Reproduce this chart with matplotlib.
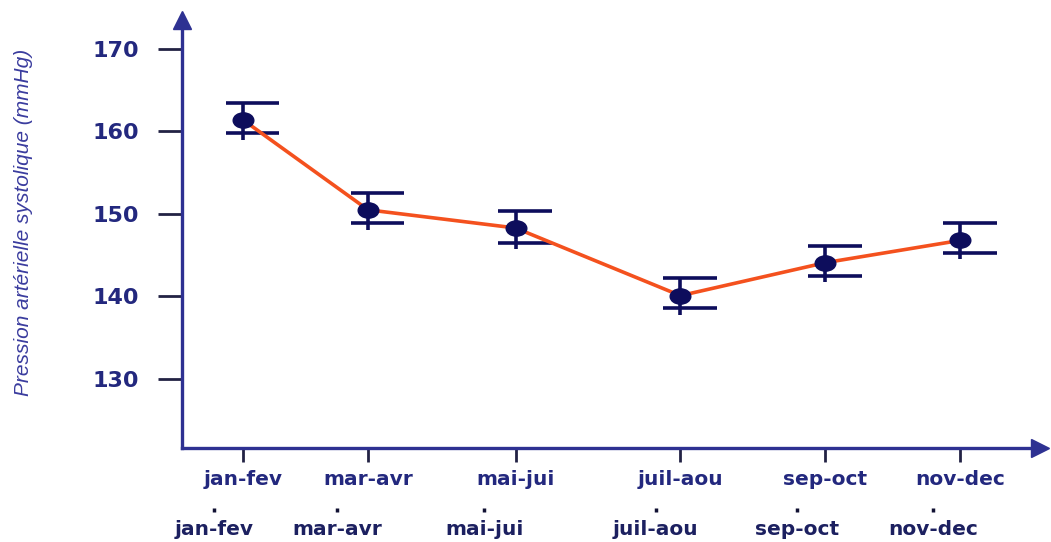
import numpy as np
import matplotlib
matplotlib.use("Agg")
import matplotlib.pyplot as plt
from matplotlib.markers import MarkerStyle
from matplotlib.transforms import Affine2D

# ─────────────────────────────────────────
# Data
# ─────────────────────────────────────────
periods   = ["jan-fev", "mar-avr", "mai-jui", "juil-aou", "sep-oct", "nov-dec"]
positions = [1.0, 2.0, 3.18, 4.50, 5.66, 6.74]       # uneven spacing as in the source
pas_mean  = [161.4, 150.5, 148.3, 140.1, 144.1, 146.8]
pas_upper = [163.5, 152.5, 150.4, 142.2, 146.1, 148.9]
pas_lower = [159.8, 148.9, 146.5, 138.6, 142.5, 145.3]
row2_pos  = [0.77, 1.75, 2.93, 4.30, 5.43, 6.52]      # duplicated label row underneath
y_ticks   = [130, 140, 150, 160, 170]

NAVY  = "#23287e"
AXIS  = "#2e3192"
ORNG  = "#f4511e"
DARK  = "#0d0d5c"

fig = plt.figure(figsize=(10.51, 5.42), dpi=100)
ax = fig.add_axes([182 / 1051, 94 / 542, 858 / 1051, 428 / 542])

# ── error bars (caps shifted to the right like the original) ──
lo = np.array(pas_lower)
hi = np.array(pas_upper)
x = np.array(positions)
ax.vlines(x, lo - 0.8, hi, color=DARK, lw=2.6, zorder=3)
ax.hlines(hi, x - 0.14, x + 0.29, color=DARK, lw=2.6, zorder=3)
ax.hlines(lo, x - 0.14, x + 0.29, color=DARK, lw=2.6, zorder=3)

# ── mean line + markers ──
ax.plot(x, pas_mean, color=ORNG, lw=2.6, zorder=4)
mk = MarkerStyle("o", transform=Affine2D().scale(1.35, 1.0))
ax.plot(x, pas_mean, ls="none", marker=mk, ms=11, color=DARK, zorder=5)

# ── axes styling ──
ax.set_xlim(0.512, 7.376)
ax.set_ylim(121.64, 173.5)
for s in ["top", "right"]:
    ax.spines[s].set_visible(False)
for s in ["left", "bottom"]:
    ax.spines[s].set_color(AXIS)
    ax.spines[s].set_linewidth(2.4)
ax.plot(0, 1, marker="^", ms=13, color=AXIS, transform=ax.transAxes, clip_on=False)
ax.plot(1, 0, marker=">", ms=13, color=AXIS, transform=ax.transAxes, clip_on=False)

ax.set_yticks(y_ticks)
ax.set_yticklabels([str(v) for v in y_ticks])
ax.tick_params(axis="y", direction="out", length=17, width=2, color="#222244",
               pad=14, labelsize=16, labelcolor=NAVY)
for lab in ax.get_yticklabels():
    lab.set_fontweight("bold")
    lab.set_family("DejaVu Sans")

ax.set_xticks(positions)
ax.set_xticklabels(periods)
ax.tick_params(axis="x", direction="out", length=10, width=2, color="#222244",
               pad=6, labelsize=14.5, labelcolor=NAVY)
for lab in ax.get_xticklabels():
    lab.set_fontweight("bold")
    lab.set_family("DejaVu Sans")

# second (duplicated) row of period labels
sec = ax.secondary_xaxis(-0.14)
sec.set_xticks(row2_pos)
sec.set_xticklabels(periods)
sec.spines["bottom"].set_visible(False)
sec.tick_params(axis="x", direction="out", length=3, width=2.5, color="#111133",
                pad=6, labelsize=14.5, labelcolor="#1c2060")
for lab in sec.get_xticklabels():
    lab.set_fontweight("bold")
    lab.set_family("DejaVu Sans")

fig.text(24 / 1051, 1 - 222 / 542, "Pression artérielle systolique (mmHg)",
         rotation=90, ha="center", va="center", fontsize=15, style="italic",
         color="#3a3c9e", family=["Liberation Sans", "DejaVu Sans"])

fig.savefig("out.png", dpi=100, facecolor="white")
